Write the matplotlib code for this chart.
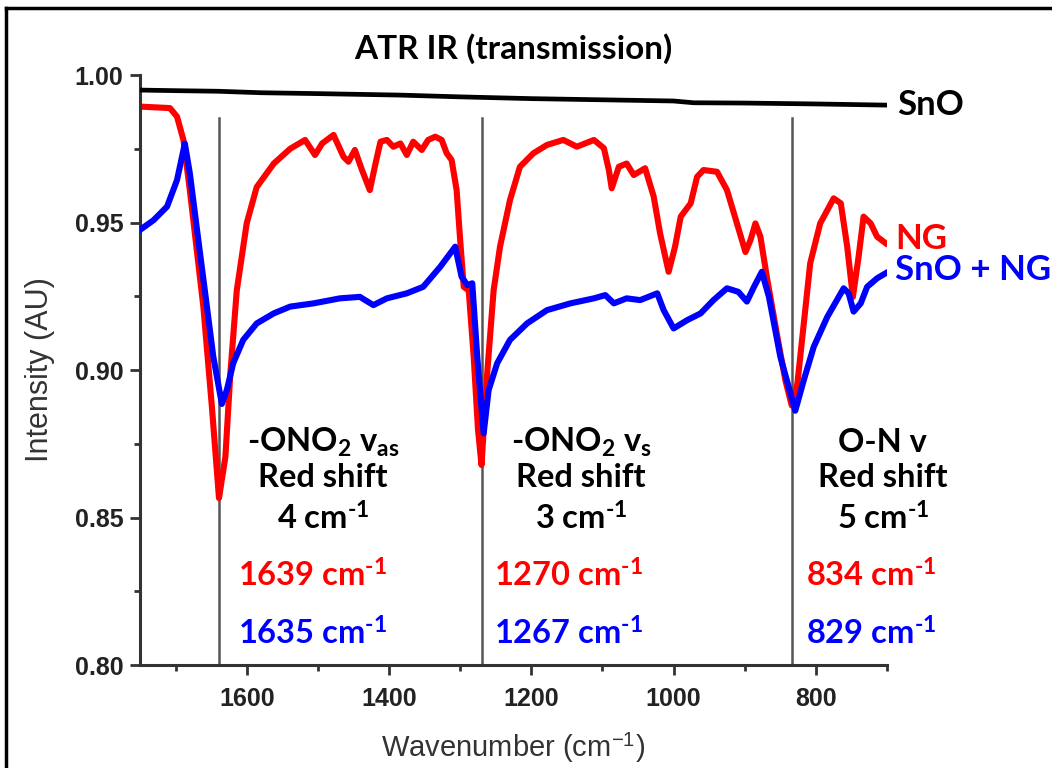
"""ATR IR transmission spectra of SnO, NG and SnO + NG with band shift notes."""

import matplotlib

matplotlib.use("Agg")
import matplotlib.pyplot as plt  # noqa: E402
from matplotlib.lines import Line2D  # noqa: E402
from matplotlib.ticker import MultipleLocator  # noqa: E402

plt.rcParams["mathtext.fontset"] = "custom"
plt.rcParams["mathtext.rm"] = "Lato:bold"
plt.rcParams["mathtext.it"] = "Lato:bold"
plt.rcParams["mathtext.bf"] = "Lato:bold"

# spectra, wavenumber (cm-1) / intensity (AU)
sno_wn = [1750, 1700, 1640, 1580, 1500, 1385, 1300, 1200, 1100, 1000, 972, 900, 800, 750, 700]
sno_int = [0.9949, 0.9947, 0.9945, 0.9940, 0.9937, 0.9932, 0.9926, 0.9920, 0.9916, 0.9912,
           0.9906, 0.9905, 0.9902, 0.9900, 0.9898]

ng_wn = [1750, 1708, 1698, 1689, 1680, 1661, 1649, 1639, 1630, 1623, 1614, 1600, 1586, 1562,
         1539, 1518, 1504, 1494, 1478, 1464, 1457, 1448, 1438, 1427, 1419, 1412, 1403, 1394,
         1384, 1375, 1366, 1354, 1345, 1335, 1326, 1319, 1312, 1305, 1300, 1295, 1288, 1281,
         1275, 1270, 1262, 1253, 1244, 1230, 1216, 1197, 1178, 1155, 1136, 1112, 1098, 1091,
         1087, 1077, 1066, 1056, 1040, 1028, 1019, 1007, 998, 990, 976, 967, 958, 939, 925,
         911, 899, 892, 885, 878, 869, 855, 843, 834, 826, 817, 808, 794, 775, 765, 756, 748,
         740, 733, 723, 714, 702]
ng_int = [0.9893, 0.9888, 0.9859, 0.9780, 0.9610, 0.9215, 0.8876, 0.8566, 0.8706, 0.8990,
          0.9270, 0.9498, 0.9620, 0.9700, 0.9750, 0.9780, 0.9729, 0.9768, 0.9797, 0.9723,
          0.9706, 0.9746, 0.9678, 0.9610, 0.9700, 0.9774, 0.9780, 0.9757, 0.9768, 0.9729,
          0.9774, 0.9746, 0.9780, 0.9791, 0.9780, 0.9735, 0.9712, 0.9610, 0.9440, 0.9282,
          0.9270, 0.9045, 0.8800, 0.8678, 0.8990, 0.9270, 0.9418, 0.9576, 0.9689, 0.9735,
          0.9763, 0.9780, 0.9757, 0.9780, 0.9752, 0.9678, 0.9616, 0.9689, 0.9700, 0.9661,
          0.9684, 0.9588, 0.9463, 0.9333, 0.9418, 0.9520, 0.9565, 0.9655, 0.9678, 0.9672,
          0.9610, 0.9497, 0.9400, 0.9440, 0.9497, 0.9452, 0.9316, 0.9124, 0.8966, 0.8880,
          0.8955, 0.9158, 0.9362, 0.9497, 0.9582, 0.9565, 0.9418, 0.9248, 0.9384, 0.9520,
          0.9497, 0.9452, 0.9430]

mix_wn = [1750, 1731, 1712, 1698, 1687, 1680, 1668, 1656, 1647, 1635, 1628, 1619, 1605, 1586,
          1562, 1539, 1506, 1469, 1441, 1422, 1403, 1375, 1352, 1328, 1307, 1298, 1290, 1283,
          1276, 1267, 1260, 1248, 1230, 1206, 1178, 1145, 1112, 1096, 1084, 1066, 1047, 1023,
          1014, 1000, 981, 962, 944, 925, 909, 897, 887, 876, 866, 850, 829, 817, 803, 784,
          761, 754, 747, 737, 728, 714, 702]
mix_int = [0.9475, 0.9508, 0.9554, 0.9644, 0.9768, 0.9667, 0.9440, 0.9215, 0.9045, 0.8885,
           0.8932, 0.9023, 0.9102, 0.9158, 0.9192, 0.9215, 0.9226, 0.9243, 0.9248, 0.9220,
           0.9243, 0.9260, 0.9282, 0.9350, 0.9418, 0.9316, 0.9288, 0.9294, 0.9045, 0.8785,
           0.8932, 0.9023, 0.9102, 0.9158, 0.9203, 0.9226, 0.9243, 0.9254, 0.9226, 0.9243,
           0.9237, 0.9260, 0.9203, 0.9141, 0.9169, 0.9192, 0.9237, 0.9277, 0.9265, 0.9232,
           0.9282, 0.9333, 0.9248, 0.9045, 0.8862, 0.8966, 0.9079, 0.9180, 0.9277, 0.9260,
           0.9198, 0.9226, 0.9282, 0.9311, 0.9328]

# band positions and shift notes
band_ng = [1639, 1270, 834]
band_mix = [1635, 1267, 829]
band_names = [r"-ONO$_2$ v$_{as}$", r"-ONO$_2$ v$_s$", "O-N v"]
band_shift = [4, 3, 5]
note_x = [1493, 1130, 706]
value_x = [1507, 1148, 722]

RED = "#ff0000"
BLUE = "#0000ff"
AXIS = "#333333"
NOTE_FONT = "Lato"
INV_CM = r"cm$^{\text{-1}}$"

fig = plt.figure(figsize=(10.52, 7.68), dpi=100)
ax = fig.add_axes([0.1331, 0.1341, 0.8432 - 0.1331, 0.9023 - 0.1341])

for x in band_ng:
    ax.plot([x, x], [0.80, 0.9855], color="#555555", lw=1.8, zorder=1)

ax.plot(sno_wn, sno_int, color="black", lw=3.4, zorder=3)
ax.plot(ng_wn, ng_int, color=RED, lw=4.4, zorder=2, solid_joinstyle="round")
ax.plot(mix_wn, mix_int, color=BLUE, lw=4.4, zorder=3, solid_joinstyle="round")

ax.set_xlim(1750, 700)
ax.set_ylim(0.80, 1.00)
ax.xaxis.set_major_locator(MultipleLocator(200))
ax.xaxis.set_minor_locator(MultipleLocator(100))
ax.yaxis.set_major_locator(MultipleLocator(0.05))
ax.yaxis.set_minor_locator(MultipleLocator(0.025))
ax.yaxis.set_major_formatter(plt.FormatStrFormatter("%.2f"))

for side in ("top", "right"):
    ax.spines[side].set_visible(False)
for side in ("left", "bottom"):
    ax.spines[side].set_linewidth(2.2)
    ax.spines[side].set_color(AXIS)
ax.tick_params(which="major", direction="out", length=7, width=2, color=AXIS,
               labelsize=18, pad=5)
ax.tick_params(axis="x", which="major", pad=9)
ax.tick_params(which="minor", direction="out", length=4, width=2, color=AXIS)
for lab in ax.get_xticklabels() + ax.get_yticklabels():
    lab.set_family("Liberation Sans")
    lab.set_fontweight("bold")
    lab.set_color("#222222")
ax.set_xticks([1600, 1400, 1200, 1000, 800])

ax.set_xlabel(r"Wavenumber (cm$^{\mathregular{-1}}$)", family="Liberation Sans",
              fontsize=21, color=AXIS, labelpad=14)
ax.set_ylabel("Intensity (AU)", family="Liberation Sans", fontsize=22, color=AXIS,
              labelpad=14)
ax.set_title("ATR IR (transmission)", family=NOTE_FONT, fontweight="bold",
             fontsize=24, pad=12)

# series names at the right-hand ends
end_kw = dict(textcoords="offset points", va="center", ha="left", family=NOTE_FONT,
              fontweight="bold", fontsize=25, annotation_clip=False)
ax.annotate("SnO", (sno_wn[-1], sno_int[-1]), xytext=(7, 0), color="black", **end_kw)
ax.annotate("NG", (ng_wn[-1], ng_int[-1]), xytext=(7, 3), color=RED, **end_kw)
ax.annotate("SnO + NG", (mix_wn[-1], mix_int[-1]), xytext=(7, 2), color=BLUE, **end_kw)

note_kw = dict(ha="center", va="baseline", family=NOTE_FONT, fontweight="bold",
               fontsize=23.5, clip_on=False)
for name, shift, nx, vx, wn_ng, wn_mix in zip(band_names, band_shift, note_x, value_x,
                                              band_ng, band_mix):
    ax.text(nx, 0.8722, name, color="black", **note_kw)
    ax.text(nx, 0.8603, "Red shift", color="black", **note_kw)
    ax.text(nx, 0.8458, f"{shift} {INV_CM}", color="black", **note_kw)
    ax.text(vx, 0.8264, f"{wn_ng} {INV_CM}", color=RED, **note_kw)
    ax.text(vx, 0.8068, f"{wn_mix} {INV_CM}", color=BLUE, **note_kw)

# frame edges around the panel
fig.add_artist(Line2D([6 / 1052, 1.0], [1 - 8 / 768, 1 - 8 / 768], color="black",
                      lw=2.5, transform=fig.transFigure))
fig.add_artist(Line2D([6 / 1052, 6 / 1052], [0.0, 1 - 8 / 768], color="black",
                      lw=2.5, transform=fig.transFigure))

fig.savefig("out.png", dpi=100, facecolor="white")
